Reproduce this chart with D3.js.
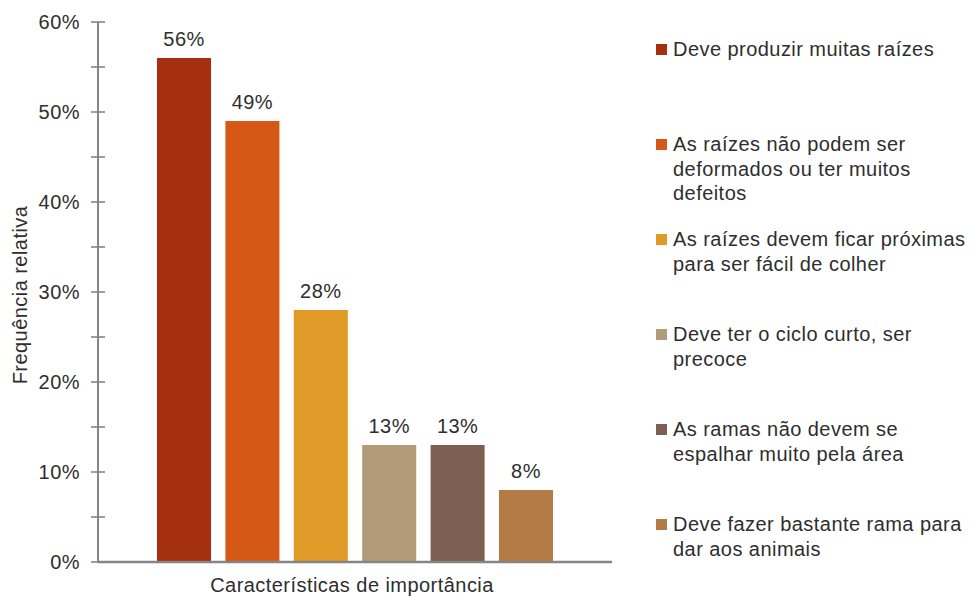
<!DOCTYPE html>
<html>
<head>
<meta charset="utf-8">
<script src="https://cdn.jsdelivr.net/npm/d3@7"></script>
<style>
  html, body { margin: 0; padding: 0; background: #fff; }
  svg { display: block; }
  text { font-family: "Liberation Sans", Arial, Helvetica, sans-serif; fill: #2e2e2e; }
</style>
</head>
<body>
<svg id="chart" width="973" height="596"></svg>
<script>
// Characteristics valued in the variety, each one wrapped onto legend lines
const categories = [
  ["Deve produzir muitas raízes"],
  ["As raízes não podem ser", "deformados ou ter muitos", "defeitos"],
  ["As raízes devem ficar próximas", "para ser fácil de colher"],
  ["Deve ter o ciclo curto, ser", "precoce"],
  ["As ramas não devem se", "espalhar muito pela área"],
  ["Deve fazer bastante rama para", "dar aos animais"]
];
// Relative frequency (%) for each characteristic
const values = [56, 49, 28, 13, 13, 8];
const colors = ["#A5300F", "#D55816", "#E09A27", "#B39B7A", "#7D5F52", "#B47B47"];
const yTicks = [0, 10, 20, 30, 40, 50, 60];
const yMinorTicks = [5, 15, 25, 35, 45, 55];
const yTitle = "Frequência relativa";
const xTitle = "Características de importância";

const svg = d3.select("#chart");
const plotLeft = 98, plotRight = 612, plotTop = 22, plotBottom = 562;
const fontSize = 20, spacing = "0.45px";

const x = d3.scaleBand()
  .domain(d3.range(values.length))
  .range([plotLeft, plotRight])
  .paddingInner(0.21)
  .paddingOuter(0.8626);

const y = d3.scaleLinear().domain([0, 60]).range([plotBottom, plotTop]);

// Bars
svg.append("g").selectAll("rect")
  .data(values)
  .join("rect")
  .attr("x", (d, i) => x(i))
  .attr("y", d => y(d))
  .attr("width", x.bandwidth())
  .attr("height", d => y(0) - y(d))
  .attr("fill", (d, i) => colors[i]);

// Value labels above the bars
svg.append("g").selectAll("text")
  .data(values)
  .join("text")
  .attr("x", (d, i) => x(i) + x.bandwidth() / 2)
  .attr("y", d => y(d) - 12)
  .attr("text-anchor", "middle")
  .style("font-size", fontSize + "px")
  .style("letter-spacing", spacing)
  .text(d => d + "%");

// Y axis: line with major and minor ticks crossing it
const axisColor = "#858585";
const yAxis = svg.append("g");
yAxis.append("line")
  .attr("x1", plotLeft).attr("x2", plotLeft)
  .attr("y1", y(60)).attr("y2", y(0))
  .attr("stroke", axisColor).attr("stroke-width", 2);
yAxis.selectAll("line.tick")
  .data(yTicks.concat(yMinorTicks))
  .join("line")
  .attr("class", "tick")
  .attr("x1", plotLeft - 7).attr("x2", plotLeft + 7)
  .attr("y1", d => y(d)).attr("y2", d => y(d))
  .attr("stroke", axisColor).attr("stroke-width", 1.6);
yAxis.selectAll("text")
  .data(yTicks)
  .join("text")
  .attr("x", plotLeft - 18)
  .attr("y", d => y(d))
  .attr("dy", "0.35em")
  .attr("text-anchor", "end")
  .style("font-size", fontSize + "px")
  .style("letter-spacing", spacing)
  .text(d => d + "%");

// Baseline
svg.append("line")
  .attr("x1", plotLeft).attr("x2", plotRight)
  .attr("y1", y(0)).attr("y2", y(0))
  .attr("stroke", axisColor).attr("stroke-width", 2.4);

// Axis titles
svg.append("text")
  .attr("transform", `translate(27,${(plotTop + plotBottom) / 2 + 3}) rotate(-90)`)
  .attr("text-anchor", "middle")
  .style("font-size", fontSize + "px")
  .style("letter-spacing", spacing)
  .text(yTitle);

svg.append("text")
  .attr("x", (plotLeft + plotRight) / 2 - 3)
  .attr("y", 592)
  .attr("text-anchor", "middle")
  .style("font-size", fontSize + "px")
  .style("letter-spacing", spacing)
  .text(xTitle);

// Legend: evenly pitched entries, each with a colour swatch
const legendX = 656, legendTop = 56, legendPitch = 95, lineHeight = 24.5;
const legend = svg.append("g").selectAll("g")
  .data(categories)
  .join("g")
  .attr("transform", (d, i) => `translate(${legendX},${legendTop + i * legendPitch})`);

legend.append("rect")
  .attr("x", 0).attr("y", -12)
  .attr("width", 11).attr("height", 11)
  .attr("fill", (d, i) => colors[i]);

legend.append("text")
  .attr("x", 17)
  .style("font-size", fontSize + "px")
  .style("letter-spacing", spacing)
  .selectAll("tspan")
  .data(d => d)
  .join("tspan")
  .attr("x", 17)
  .attr("y", (d, j) => j * lineHeight)
  .text(d => d);
</script>
</body>
</html>
